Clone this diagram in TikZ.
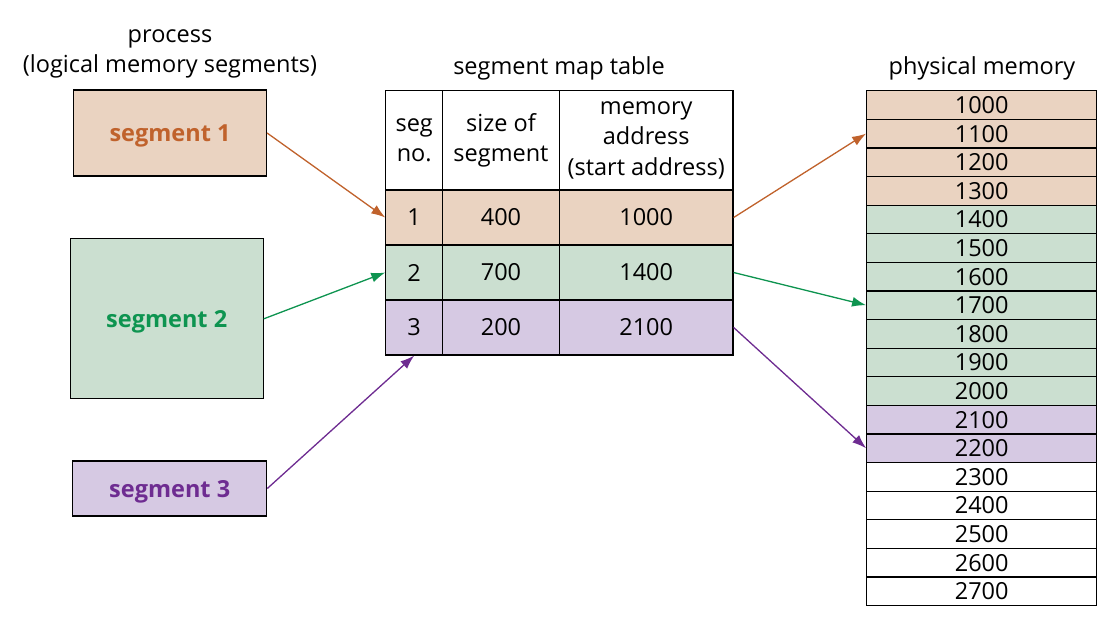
\documentclass[tikz,border=0pt]{standalone}
\usepackage{fontspec}
\setmainfont{Open Sans}
\usetikzlibrary{arrows.meta}
\definecolor{peach}{RGB}{234,211,193}
\definecolor{mint}{RGB}{203,223,208}
\definecolor{lilac}{RGB}{214,201,227}
\definecolor{ortxt}{RGB}{192,98,44}
\definecolor{grtxt}{RGB}{14,148,80}
\definecolor{putxt}{RGB}{110,44,145}
\begin{document}
\begin{tikzpicture}[x=1pt,y=-1pt,
  txt/.style={font=\fontsize{23.5}{30}\selectfont, inner sep=0pt, align=center},
  cell/.style={draw=black, line width=1.2pt, inner sep=0pt, minimum width=#1, font=\fontsize{23.5}{30.5}\selectfont, align=center},
  cellh/.style={minimum height=55pt},
  memrow/.style={draw=black, line width=1.2pt, inner sep=0pt, minimum width=230pt, minimum height=28.6pt, font=\fontsize{23.5}{26}\selectfont},
  segbox/.style={draw=black, line width=1.2pt, inner sep=0pt, text depth=0pt, font=\bfseries\fontsize{23.5}{26}\selectfont},
  conn/.style={line width=1.3pt, -{Latex[length=14pt,width=10pt]}}
]
\useasboundingbox (0,0) rectangle (1116,622);

% titles
\node[txt] (tproc) at (170,54) {process\\(logical memory segments)};
\node[txt] (tmap) at (559,68) {segment map table};
\node[txt] (tphys) at (982,68) {physical memory};

% process segments
\node[segbox, fill=peach, text=ortxt, minimum width=193pt, minimum height=86pt] (s1) at (170,133) {segment 1};
\node[segbox, fill=mint, text=grtxt, minimum width=193pt, minimum height=160pt] (s2) at (166.7,318.8) {segment 2};
\node[segbox, fill=lilac, text=putxt, minimum width=194pt, minimum height=55pt] (s3) at (169.7,488.5) {segment 3};

% table header
\node[cell=56.7pt, minimum height=99.3pt] (h1) at (414.2,140.35) {seg\\no.};
\node[cell=116.6pt, minimum height=99.3pt] (h2) at (501,140.35) {size of\\segment};
\node[cell=173.7pt, minimum height=99.3pt] (h3) at (646.2,140.35) {memory\\address\\(start address)};
% rows
\node[cell=56.7pt, cellh, fill=peach] (r1a) at (414.2,217.5) {1};
\node[cell=116.6pt, cellh, fill=peach] (r1b) at (501,217.5) {400};
\node[cell=173.7pt, cellh, fill=peach] (r1c) at (646.2,217.5) {1000};
\node[cell=56.7pt, cellh, fill=mint] (r2a) at (414.2,272.5) {2};
\node[cell=116.6pt, cellh, fill=mint] (r2b) at (501,272.5) {700};
\node[cell=173.7pt, cellh, fill=mint] (r2c) at (646.2,272.5) {1400};
\node[cell=56.7pt, cellh, fill=lilac] (r3a) at (414.2,327.5) {3};
\node[cell=116.6pt, cellh, fill=lilac] (r3b) at (501,327.5) {200};
\node[cell=173.7pt, cellh, fill=lilac] (r3c) at (646.2,327.5) {2100};

% physical memory
\foreach \v/\c [count=\i from 0] in {1000/peach,1100/peach,1200/peach,1300/peach,1400/mint,1500/mint,1600/mint,1700/mint,1800/mint,1900/mint,2000/mint,2100/lilac,2200/lilac,2300/white,2400/white,2500/white,2600/white,2700/white}{
  \node[memrow, fill=\c] (m\v) at (981.7,{90.7+28.6*(\i+0.5)}) {\v};
}

% connectors
\draw[conn, draw=ortxt, fill=ortxt] (s1.east) -- (r1a.west);
\draw[conn, draw=grtxt, fill=grtxt] (s2.east) -- (r2a.west);
\draw[conn, draw=putxt, fill=putxt] (s3.east) -- (r3a.south);
\draw[conn, draw=ortxt, fill=ortxt] (r1c.east) -- (m1100.west);
\draw[conn, draw=grtxt, fill=grtxt] (r2c.east) -- (m1700.west);
\draw[conn, draw=putxt, fill=putxt] (r3c.east) -- (m2200.west);
\end{tikzpicture}
\end{document}
